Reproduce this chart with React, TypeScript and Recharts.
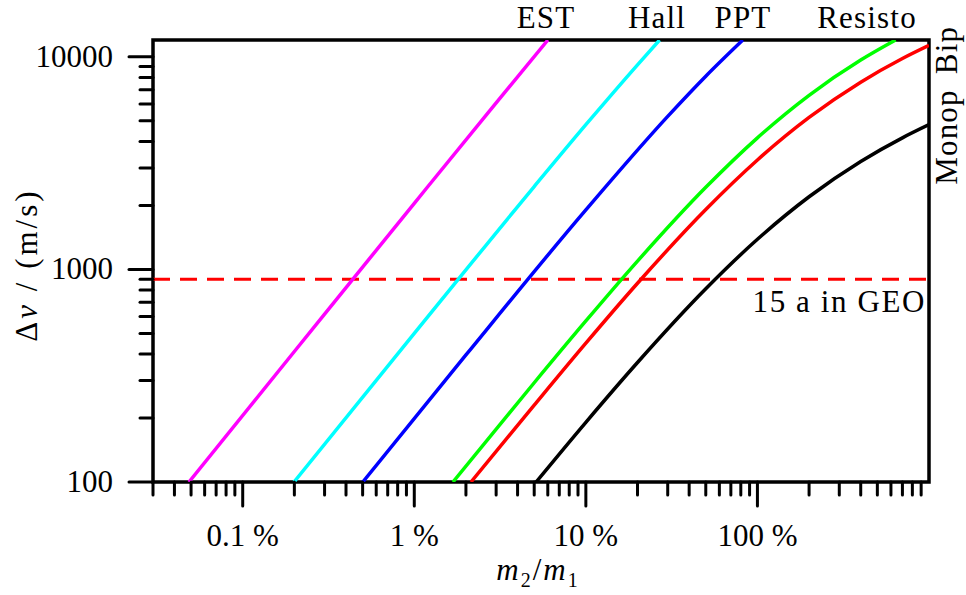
import React from 'react';
import { LineChart, Line, XAxis, YAxis, ReferenceLine, ReferenceArea } from 'recharts';

// m2/m1 in %, delta-v in m/s
const estX = [0.0486, 0.2, 1, 3, 6.01];
const estY = [100, 411, 2047, 6080, 12000];
const hallX = [0.199, 1, 5, 10, 20, 26.9];
const hallY = [100, 500, 2454, 4794, 9171, 12000];
const pptX = [0.501, 2, 10, 30, 50, 82.2];
const pptY = [100, 396, 1906, 5247, 8109, 12000];
const resistoX = [1.68, 5, 10, 20, 50, 100, 200, 400, 639];
const resistoY = [100, 293, 572, 1094, 2433, 4159, 6592, 9657, 12000];
const bipX = [2.14, 5, 10, 20, 50, 100, 200, 400, 700, 1000];
const bipY = [100, 230, 450, 861, 1914, 3272, 5186, 7597, 9815, 11318];
const monopX = [5.13, 10, 20, 50, 100, 200, 400, 700, 1000];
const monopY = [100, 191, 365, 811, 1386, 2197, 3219, 4159, 4796];

const geoDeltaV = 900;

const xTicks = [0.03, 0.04, 0.05, 0.06, 0.07, 0.08, 0.09, 0.1, 0.2, 0.3, 0.4, 0.5, 0.6, 0.7, 0.8, 0.9,
  1, 2, 3, 4, 5, 6, 7, 8, 9, 10, 20, 30, 40, 50, 60, 70, 80, 90, 100, 200, 300, 400, 500, 600, 700, 800, 900];
const xMajorLabels: Record<string, string> = { '0.1': '0.1 %', '1': '1 %', '10': '10 %', '100': '100 %' };
const yTicks = [100, 200, 300, 400, 500, 600, 700, 800, 900, 1000, 2000, 3000, 4000, 5000, 6000, 7000, 8000, 9000, 10000];
const yMajorLabels: Record<string, string> = { '100': '100', '1000': '1000', '10000': '10000' };

const topLabels = ['EST', 'Hall', 'PPT', 'Resisto'];
const rightLabels = ['Bip', 'Monop'];
const geoLabel = '15 a in GEO';

const zip = (xs: number[], ys: number[]) => xs.map((x, i) => ({ x, y: ys[i] }));

const series = [
  { name: 'EST', data: zip(estX, estY), color: '#ff00ff' },
  { name: 'Hall', data: zip(hallX, hallY), color: '#00ffff' },
  { name: 'PPT', data: zip(pptX, pptY), color: '#0000ff' },
  { name: 'Resisto', data: zip(resistoX, resistoY), color: '#00ff00' },
  { name: 'Bip', data: zip(bipX, bipY), color: '#ff0000' },
  { name: 'Monop', data: zip(monopX, monopY), color: '#000000' },
];

const FONT = 'Liberation Serif';
const FS = 31;
const TS: React.CSSProperties = { fontFamily: FONT, fontSize: FS, fill: '#000' };
const WS: React.CSSProperties = { ...TS, letterSpacing: 1.2 };

const XTick = (props: any) => {
  const { x, y, payload } = props;
  const lbl = xMajorLabels[String(payload.value)];
  const major = !!lbl;
  return (
    <g>
      <line x1={x} y1={y} x2={x} y2={y + (major ? 24 : 13)} stroke="#000" strokeWidth={3} strokeLinecap="round" />
      {major && (
        <text x={x} y={y + 64} textAnchor="middle" style={TS}>{lbl}</text>
      )}
    </g>
  );
};

const YTick = (props: any) => {
  const { x, y, payload } = props;
  const lbl = yMajorLabels[String(payload.value)];
  const major = !!lbl;
  return (
    <g>
      <line x1={x} y1={y} x2={x - (major ? 24 : 13)} y2={y} stroke="#000" strokeWidth={3} strokeLinecap="round" />
      {major && (
        <text x={x - 40} y={y + 10} textAnchor="end" style={TS}>{lbl}</text>
      )}
    </g>
  );
};

export default function App() {
  return (
    <div style={{ position: 'absolute', left: 0, top: 0, width: 966, height: 595, background: '#fff' }}>
      <LineChart width={966} height={595} margin={{ top: 40, right: 37, bottom: 0, left: 0 }}>
        <XAxis dataKey="x" type="number" scale="log" domain={[0.03, 1000]} allowDataOverflow
          ticks={xTicks} interval={0} tick={<XTick />} tickLine={false} tickSize={0} tickMargin={0}
          axisLine={false} height={113} />
        <YAxis dataKey="y" type="number" scale="log" domain={[100, 12000]} allowDataOverflow
          ticks={yTicks} interval={0} tick={<YTick />} tickLine={false} tickSize={0} tickMargin={0}
          axisLine={false} width={153} />
        <ReferenceLine y={geoDeltaV} stroke="#ff0000" strokeWidth={3} strokeDasharray="17 10" />
        {series.map((s) => (
          <Line key={s.name} data={s.data} dataKey="y" type="monotone" stroke={s.color} strokeWidth={3.5}
            dot={false} isAnimationActive={false} />
        ))}
        <ReferenceArea x1={0.03} x2={1000} y1={100} y2={12000} fill="none" fillOpacity={0} stroke="#000" strokeWidth={3.5} />
      </LineChart>
      <svg width={966} height={595} style={{ position: 'absolute', left: 0, top: 0, pointerEvents: 'none' }}>
        <g style={WS}>
          <text x={546} y={28} textAnchor="middle">{topLabels[0]}</text>
          <text x={657} y={28} textAnchor="middle">{topLabels[1]}</text>
          <text x={743} y={28} textAnchor="middle">{topLabels[2]}</text>
          <text x={867} y={28} textAnchor="middle">{topLabels[3]}</text>
          <text x={957} y={50} textAnchor="middle" transform="rotate(-90 957 50)">{rightLabels[0]}</text>
          <text x={957} y={137} textAnchor="middle" transform="rotate(-90 957 137)">{rightLabels[1]}</text>
          <text x={926} y={312} textAnchor="end" style={{ letterSpacing: 1.6 }}>{geoLabel}</text>
          <text x={37} y={265} textAnchor="middle" transform="rotate(-90 37 265)" style={{ letterSpacing: 3 }}>
            Δ<tspan fontStyle="italic">v</tspan> / (m/s)
          </text>
          <text x={538} y={580} textAnchor="middle" style={{ letterSpacing: 2 }}>
            <tspan fontStyle="italic">m</tspan>
            <tspan fontSize={20} dy={7}>2</tspan>
            <tspan dy={-7}>/</tspan>
            <tspan fontStyle="italic">m</tspan>
            <tspan fontSize={20} dy={7}>1</tspan>
          </text>
        </g>
      </svg>
    </div>
  );
}
